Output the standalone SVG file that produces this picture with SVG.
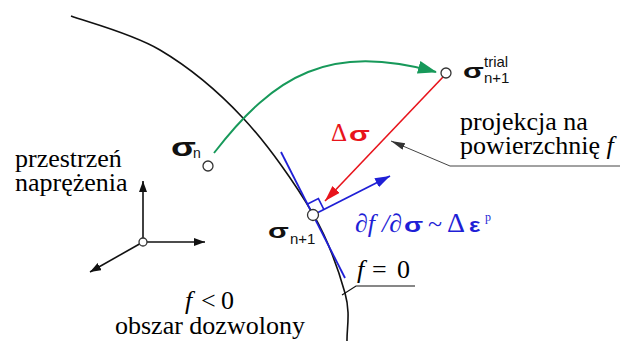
<svg xmlns="http://www.w3.org/2000/svg" width="623" height="341" viewBox="0 0 623 341">
<defs>
<marker id="mg" markerUnits="userSpaceOnUse" markerWidth="20" markerHeight="14" refX="18" refY="6.5" orient="auto"><path d="M0,0 L19,6.5 L0,13 z" fill="#17995a"/></marker>
<marker id="mr" markerUnits="userSpaceOnUse" markerWidth="18" markerHeight="12" refX="16" refY="5" orient="auto"><path d="M0,0 L16,5 L0,10 z" fill="#e8141c"/></marker>
<marker id="mb" markerUnits="userSpaceOnUse" markerWidth="18" markerHeight="12" refX="15" refY="5" orient="auto"><path d="M0,0 L15,5 L0,10 z" fill="#1f1fd6"/></marker>
<marker id="mk" markerUnits="userSpaceOnUse" markerWidth="14" markerHeight="10" refX="11" refY="4" orient="auto"><path d="M0,0 L11,4 L0,8 z" fill="#111"/></marker>
<marker id="mgr" markerUnits="userSpaceOnUse" markerWidth="16" markerHeight="10" refX="14" refY="3.5" orient="auto"><path d="M0,0 L14,3.5 L0,7 z" fill="#333"/></marker>
</defs>
<rect width="623" height="341" fill="#fff"/>
<g id="yield-surface">
<path d="M71,16 C85.8,21.7 131.3,33 160,50 C188.7,67 217.5,90.7 243,118 C268.5,145.3 296,184.8 313,214 C330,243.2 339.3,272.8 345,293 C350.7,313.2 346.7,328 347,341" fill="none" stroke="#111" stroke-width="1.6"/>
</g>
<g id="connectors">
<path d="M214,153 C275,74 330,43 436,72" fill="none" stroke="#17995a" stroke-width="1.9" marker-end="url(#mg)"/>
<line x1="443" y1="77" x2="325" y2="201" stroke="#e8141c" stroke-width="1.6" marker-end="url(#mr)"/>
<line x1="281" y1="152" x2="345" y2="278" stroke="#1f1fd6" stroke-width="1.8"/>
<line x1="313" y1="215" x2="390" y2="176" stroke="#1f1fd6" stroke-width="1.8" marker-end="url(#mb)"/>
<path d="M307.6,204 L318.4,198.6 L323.8,209.3" fill="none" stroke="#1f1fd6" stroke-width="1.6"/>
<polyline points="620,166 450,166 391,141" fill="none" stroke="#444" stroke-width="1" marker-end="url(#mgr)"/>
<polyline points="342,295 356,286 415,286" fill="none" stroke="#111" stroke-width="1.2"/>
</g>
<g id="space-label">
<text x="15" y="167" font-family="Liberation Serif" font-size="26">przestrzeń</text>
<text x="15" y="191" font-family="Liberation Serif" font-size="26">naprężenia</text>
</g>
<g id="projection-label">
<text x="460" y="130" font-family="Liberation Serif" font-size="26">projekcja na</text>
<text x="460" y="154" font-family="Liberation Serif" font-size="26">powierzchnię <tspan font-style="italic">f</tspan></text>
</g>
<g id="admissible-label">
<text x="185" y="309" font-family="Liberation Serif" font-size="26" font-style="italic">f</text>
<text x="201" y="309" font-family="Liberation Serif" font-size="26">&lt;</text>
<text x="221" y="309" font-family="Liberation Serif" font-size="26">0</text>
<text x="115" y="334" font-family="Liberation Serif" font-size="26">obszar dozwolony</text>
</g>
<g id="yield-label">
<text x="357" y="278" font-family="Liberation Serif" font-size="26" font-style="italic">f</text>
<text x="372" y="278" font-family="Liberation Serif" font-size="26">=</text>
<text x="397" y="278" font-family="Liberation Serif" font-size="26">0</text>
</g>
<g id="flow-label">
<text x="355" y="232" font-family="Liberation Serif" font-size="26" font-style="italic" fill="#1f1fd6">∂f</text>
<text x="382" y="232" font-family="Liberation Serif" font-size="26" font-style="italic" fill="#1f1fd6">/∂</text>
<text font-family="Liberation Sans" font-weight="bold" font-size="20" fill="#1f1fd6" transform="translate(404,232) scale(1.4,1)">σ</text>
<text x="428" y="232" font-family="Liberation Serif" font-size="26" fill="#1f1fd6">~</text>
<text x="447" y="232" font-family="Liberation Serif" font-size="28" fill="#1f1fd6">Δ</text>
<text font-family="Liberation Sans" font-weight="bold" font-size="20" fill="#1f1fd6" transform="translate(469,232) scale(1.2,1)">ε</text>
<text x="485" y="221" font-family="Liberation Serif" font-size="12" fill="#1f1fd6">p</text>
</g>
<g id="delta-sigma">
<text x="331" y="141" font-family="Liberation Serif" font-size="25" fill="#e8141c">Δ</text>
<text font-family="Liberation Sans" font-weight="bold" font-size="21" fill="#e8141c" transform="translate(349,141) scale(1.45,1)">σ</text>
</g>
<g id="sigma-n">
<circle cx="208" cy="166" r="5" fill="#fff" stroke="#333" stroke-width="1.3"/>
<text font-family="Liberation Sans" font-weight="bold" font-size="26" fill="#111" transform="translate(171,156) scale(1.4,1)">σ</text>
<text x="193" y="158" font-family="Liberation Sans" font-size="14" fill="#111">n</text>
</g>
<g id="sigma-trial">
<circle cx="446" cy="73" r="5" fill="#fff" stroke="#333" stroke-width="1.3"/>
<text font-family="Liberation Sans" font-weight="bold" font-size="21" fill="#111" transform="translate(463,78) scale(1.45,1)">σ</text>
<text x="484" y="67" font-family="Liberation Sans" font-size="15" fill="#111">trial</text>
<text x="484" y="83" font-family="Liberation Sans" font-size="15" fill="#111">n+1</text>
</g>
<g id="sigma-n1">
<circle cx="313" cy="215" r="5.5" fill="#fff" stroke="#333" stroke-width="1.3"/>
<text font-family="Liberation Sans" font-weight="bold" font-size="21" fill="#111" transform="translate(268,238) scale(1.45,1)">σ</text>
<text x="290" y="244" font-family="Liberation Sans" font-size="15" fill="#111">n+1</text>
</g>
<g id="axes">
<line x1="143" y1="242" x2="143" y2="181" stroke="#111" stroke-width="1.6" marker-end="url(#mk)"/>
<line x1="143" y1="242" x2="205" y2="242" stroke="#111" stroke-width="1.6" marker-end="url(#mk)"/>
<line x1="143" y1="242" x2="90" y2="272" stroke="#111" stroke-width="1.6" marker-end="url(#mk)"/>
<circle cx="143" cy="242" r="4" fill="#fff" stroke="#333" stroke-width="1.3"/>
</g>
</svg>
